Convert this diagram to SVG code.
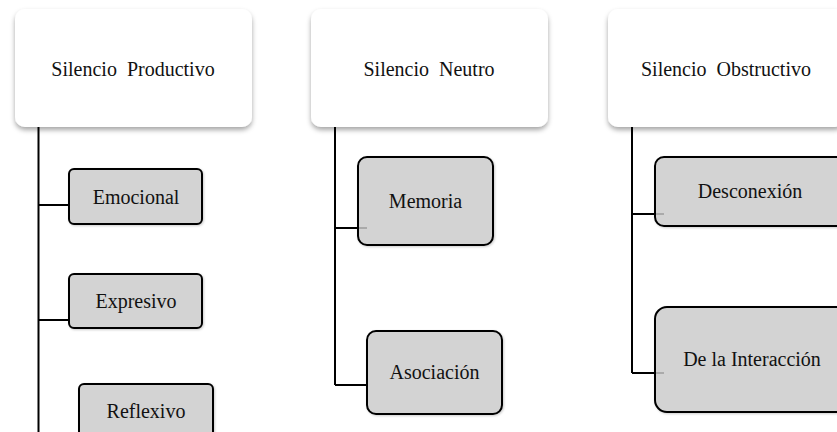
<svg xmlns="http://www.w3.org/2000/svg" width="837" height="432" viewBox="0 0 837 432">
<style>
.hdr{fill:#ffffff;filter:url(#sh)}
.sub{fill:#d3d3d3;stroke:#000;stroke-width:2}
.t{font-family:"Liberation Serif","Times New Roman",serif;font-size:20px;fill:#111;text-anchor:middle}
.h{word-spacing:5px}
.c{stroke:#000;stroke-width:2;fill:none}
.stub{stroke:#aaa;stroke-width:2}
</style>
<defs>
<filter id="sh" x="-10%" y="-10%" width="120%" height="130%">
<feDropShadow dx="0" dy="3" stdDeviation="2.5" flood-color="#000" flood-opacity="0.35"/>
</filter>
<filter id="sh2" x="-10%" y="-10%" width="120%" height="130%">
<feDropShadow dx="1" dy="1" stdDeviation="1" flood-color="#000" flood-opacity="0.2"/>
</filter>
</defs>
<rect width="837" height="432" fill="#fff"/>
<g id="productivo">
<rect class="hdr" x="15" y="9" width="237" height="118" rx="10"/>
<text class="t h" x="133" y="76">Silencio Productivo</text>
</g>
<g id="neutro">
<rect class="hdr" x="311" y="9" width="237" height="118" rx="10"/>
<text class="t h" x="429" y="76">Silencio Neutro</text>
</g>
<g id="obstructivo">
<rect class="hdr" x="608" y="9" width="237" height="118" rx="10"/>
<text class="t h" x="726" y="76">Silencio Obstructivo</text>
</g>
<g id="emocional">
<rect class="sub" x="69" y="169" width="133" height="55" rx="5" filter="url(#sh2)"/>
<text class="t" x="136" y="204">Emocional</text>
</g>
<g id="expresivo">
<rect class="sub" x="69" y="274" width="133" height="54" rx="5" filter="url(#sh2)"/>
<text class="t" x="136" y="308">Expresivo</text>
</g>
<g id="reflexivo">
<rect class="sub" x="79" y="384" width="134" height="60" rx="5" filter="url(#sh2)"/>
<text class="t" x="146" y="418">Reflexivo</text>
</g>
<g id="memoria">
<rect class="sub" x="358" y="157" width="135" height="88" rx="9" filter="url(#sh2)"/>
<text class="t" x="425.5" y="208">Memoria</text>
</g>
<g id="asociacion">
<rect class="sub" x="367" y="331" width="135" height="83" rx="9" filter="url(#sh2)"/>
<text class="t" x="434.5" y="379">Asociación</text>
</g>
<g id="desconexion">
<rect class="sub" x="655" y="157" width="192" height="69" rx="9" filter="url(#sh2)"/>
<text class="t" x="750" y="198">Desconexión</text>
</g>
<g id="interaccion">
<rect class="sub" x="655" y="307" width="195" height="105" rx="12" filter="url(#sh2)"/>
<text class="t" x="752" y="366">De la Interacción</text>
</g>
<g id="connectors">
<path class="c" d="M38.5 127V432M38.5 205H69M38.5 320H69"/>
<path class="c" d="M335 127V385M335 228H358M335 385H367"/>
<path class="c" d="M632 127V373M632 214H655M632 373H655"/>
<path class="stub" d="M359 228H367M656 214H664M656 373H664"/>
</g>
</svg>
